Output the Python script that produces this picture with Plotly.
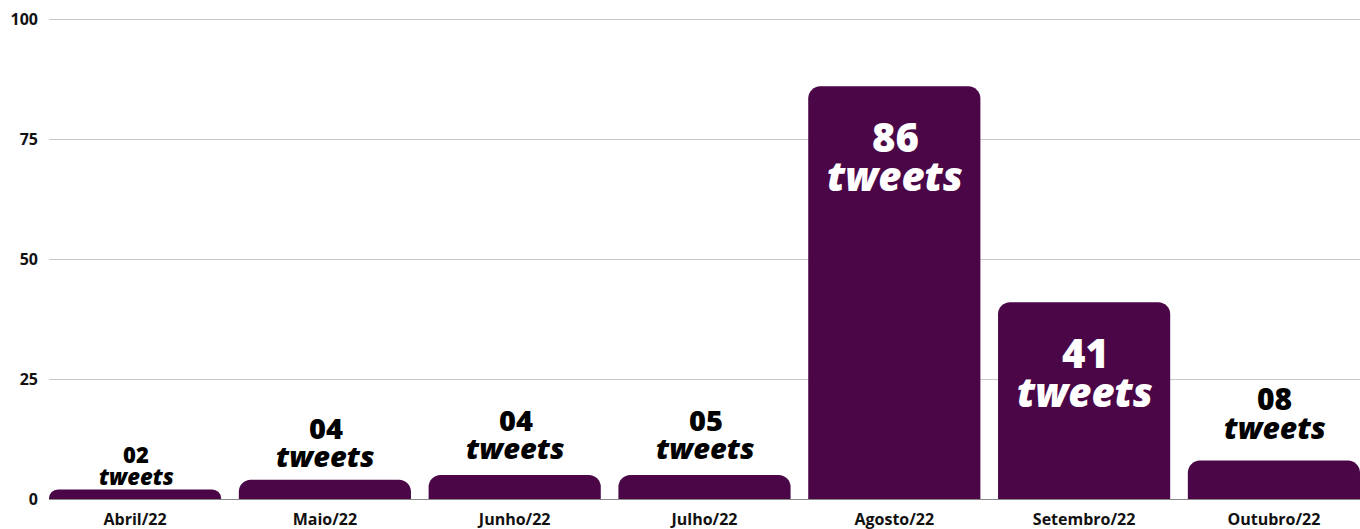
import plotly.graph_objects as go

# ---- data ----
months = ["Abril/22", "Maio/22", "Junho/22", "Julho/22", "Agosto/22", "Setembro/22", "Outubro/22"]
tweets = [2, 4, 5, 5, 86, 41, 8]
count_labels = ["02", "04", "04", "05", "86", "41", "08"]
unit_label = "tweets"

# ---- styles ----
bar_color = "#4A0646"
label_size = [22, 29, 29, 29, 40, 40, 30]
# pixel offset from bar top to the centre of the "tweets" line (outside labels)
outside_gap = [13, 24, 28, 28, 0, 0, 33]
inside_threshold = 20

fig = go.Figure()
fig.add_trace(go.Bar(
    x=months, y=tweets,
    marker=dict(color=bar_color, cornerradius=12, line=dict(width=0)),
    hoverinfo="x+y",
))

annotations = []
for i, (m, v, lab) in enumerate(zip(months, tweets, count_labels)):
    s = label_size[i]
    if v > inside_threshold:
        color = "white"
        n_shift = -50
        t_shift = -89
    else:
        color = "black"
        t_shift = outside_gap[i]
        n_shift = t_shift + round(s * 0.98)
    annotations.append(dict(
        x=m, y=v, xref="x", yref="y", text=lab, showarrow=False,
        yanchor="middle", xanchor="center", yshift=n_shift, xshift=1,
        font=dict(family="Open Sans", size=s, color=color, weight=800),
    ))
    annotations.append(dict(
        x=m, y=v, xref="x", yref="y", text=unit_label, showarrow=False,
        yanchor="middle", xanchor="center", yshift=t_shift, xshift=1,
        font=dict(family="Open Sans", size=s, color=color, weight=800, style="italic"),
    ))

fig.update_layout(
    width=1360, height=529,
    margin=dict(l=49, r=0, t=18, b=30),
    paper_bgcolor="white", plot_bgcolor="white",
    bargap=0.093,
    showlegend=False,
    annotations=annotations,
    xaxis=dict(
        range=[-0.4535, 6.4535],
        showgrid=False, showline=False, zeroline=False,
        ticks="", ticklabelstandoff=9,
        tickfont=dict(family="Open Sans", size=16, color="#111", weight=700),
    ),
    yaxis=dict(
        range=[0, 100.25], tickvals=[0, 25, 50, 75, 100],
        showgrid=True, gridcolor="#C8C8C8", gridwidth=1,
        zeroline=True, zerolinecolor="#888888", zerolinewidth=1,
        showline=False, ticks="",
        ticklabelstandoff=10,
        tickfont=dict(family="Open Sans", size=16, color="#111", weight=700),
    ),
)

fig.write_html("out.html", config={"displayModeBar": False},
               post_script="document.body.style.margin='0';")
